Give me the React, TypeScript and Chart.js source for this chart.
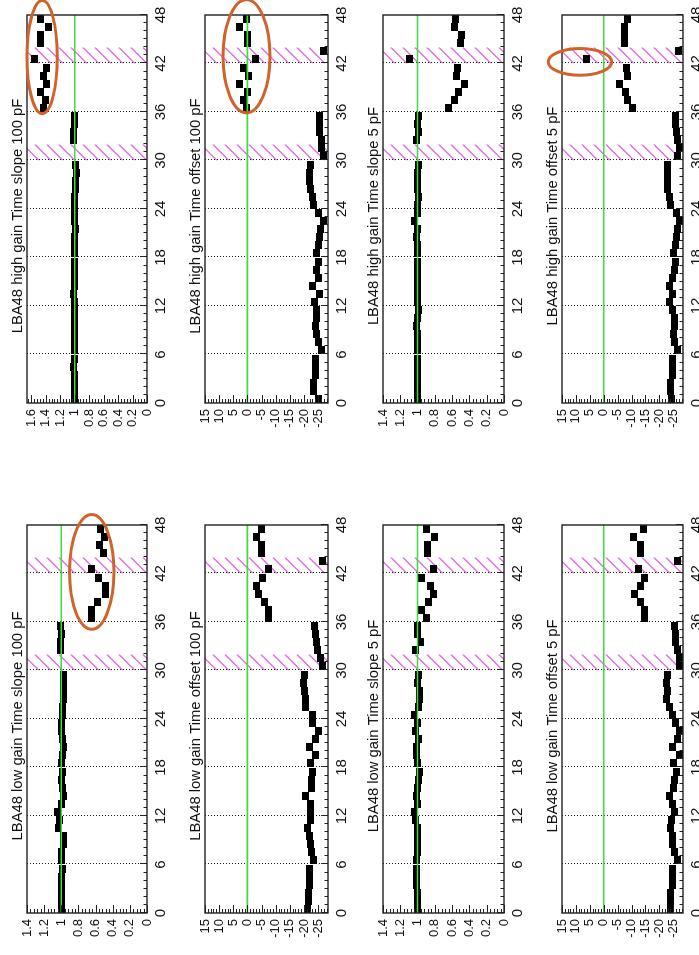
import React, { useEffect, useRef } from 'react';
import { Chart, registerables } from 'chart.js';

Chart.register(...registerables);

const FONT = "'Liberation Sans', Arial, Helvetica, sans-serif";
Chart.defaults.font.family = FONT;

// ---------------- axes / categories ----------------
const CHANNEL_TICKS = [0, 6, 12, 18, 24, 30, 36, 42, 48];
const GRID_CHANNELS = [6, 12, 18, 24, 30, 36, 42];
const HATCHED_CHANNELS = [[30, 32], [42, 44]];
const SLOPE_TICKS = [0, 0.2, 0.4, 0.6, 0.8, 1, 1.2, 1.4];
const SLOPE_TICKS_WIDE = [0, 0.2, 0.4, 0.6, 0.8, 1, 1.2, 1.4, 1.6];
const OFFSET_TICKS = [-25, -20, -15, -10, -5, 0, 5, 10, 15];
const SLOPE_RANGE = [0, 1.4];
const SLOPE_RANGE_WIDE = [0, 1.66];
const OFFSET_RANGE = [-28.5, 15];
const SLOPE_REFERENCE = 1;
const OFFSET_REFERENCE = 0;

const TITLES = [
  'LBA48 low gain Time slope 100 pF',
  'LBA48 low gain Time offset 100 pF',
  'LBA48 low gain Time slope 5 pF',
  'LBA48 low gain Time offset 5 pF',
  'LBA48 high gain Time slope 100 pF',
  'LBA48 high gain Time offset 100 pF',
  'LBA48 high gain Time slope 5 pF',
  'LBA48 high gain Time offset 5 pF',
];

// ---------------- series (channel 0..47) ----------------
const lowSlope100 = [
  1.00, 1.00, 1.00, 1.00, 1.00, 0.99, 1.00, 1.00, 0.98, 0.97, 1.03, 1.02,
  1.04, 1.00, 0.97, 0.99, 1.00, 0.99, 1.00, 0.99, 0.98, 0.99, 1.00, 1.00,
  0.99, 0.99, 0.98, 0.98, 0.98, 0.98, null, null, 1.01, 1.01, 1.00, 1.01,
  0.65, 0.65, 0.58, 0.49, 0.49, 0.57, 0.65, null, 0.51, 0.56, 0.50, 0.54,
];
const lowOffset100 = [
  -21.2, -21.5, -21.5, -22.0, -22.0, -22.0, -23.5, -22.7, -22.4, -22.0, -21.2, -22.4,
  -22.4, -22.4, -20.6, -22.7, -22.7, -22.9, -22.4, -24.1, -21.8, -24.1, -25.1, -22.9,
  -22.9, -20.6, -20.6, -20.2, -20.0, -20.2, -26.7, -25.9, -24.7, -24.4, -24.1, -23.8,
  -7.5, -7.5, -5.9, -4.0, -3.2, -5.3, -7.6, -26.6, -5.1, -5.1, -3.2, -5.1,
];
const lowSlope5 = [
  1.00, 1.00, 1.00, 1.01, 1.01, 1.01, 1.01, 1.00, 1.00, 1.00, 1.00, 1.02,
  1.03, 1.00, 1.01, 1.00, 0.99, 0.98, 1.00, 1.01, 1.01, 0.99, 1.02, 1.00,
  1.03, 0.99, 0.98, 0.98, 1.00, 0.99, null, null, 1.02, 0.97, 1.00, 1.00,
  0.90, 0.95, 0.87, 0.82, 0.85, 0.96, 0.82, null, 0.89, 0.89, 0.80, 0.90,
];
const lowOffset5 = [
  -24.1, -24.1, -24.1, -24.9, -24.9, -24.7, -26.5, -25.3, -24.9, -24.7, -24.1, -24.5,
  -25.3, -24.9, -23.5, -25.0, -25.5, -26.1, -25.0, -27.1, -24.7, -26.5, -27.1, -25.9,
  -24.7, -23.8, -22.6, -22.9, -22.6, -22.9, -27.1, -27.1, -26.5, -25.9, -25.9, -25.5,
  -14.5, -14.8, -13.3, -11.1, -13.1, -14.7, -12.4, -26.7, -13.1, -13.1, -10.7, -14.3,
];
const highSlope100 = [
  1.00, 1.00, 1.00, 1.00, 1.01, 1.00, 1.00, 1.00, 1.00, 1.00, 1.00, 1.00,
  1.00, 1.01, 1.00, 1.00, 1.00, 1.00, 1.00, 1.00, 1.00, 0.99, 1.00, 1.00,
  1.00, 1.00, 0.99, 0.99, 0.98, 0.99, null, null, 1.01, 1.01, 1.00, 1.00,
  1.43, 1.41, 1.47, 1.385, 1.43, 1.39, 1.56, null, 1.47, 1.47, 1.36, 1.47,
];
const highOffset100 = [
  -25.0, -23.2, -23.2, -24.2, -24.2, -24.2, -26.2, -25.0, -24.4, -24.2, -24.4, -24.6,
  -23.8, -25.6, -23.0, -25.0, -24.6, -25.0, -24.6, -25.2, -25.6, -25.8, -26.8, -25.0,
  -23.5, -23.0, -22.3, -22.1, -22.1, -22.4, -26.8, -26.2, -26.2, -25.6, -25.4, -25.4,
  0.4, 1.5, -0.1, 2.7, -0.4, 1.4, -2.9, -26.9, -0.2, -0.2, 2.8, 0.4,
];
const highSlope5 = [
  1.00, 1.00, 1.00, 1.00, 1.00, 1.00, 1.00, 1.00, 1.00, 1.01, 1.00, 0.99,
  1.00, 1.00, 1.00, 1.00, 1.00, 1.00, 1.00, 1.00, 1.01, 1.00, 1.03, 1.00,
  1.00, 0.99, 1.00, 1.00, 1.00, 0.99, null, null, 1.01, 0.99, 1.00, 0.99,
  0.64, 0.57, 0.53, 0.46, 0.55, 0.54, 1.09, null, 0.50, 0.49, 0.57, 0.56,
];
const highOffset5 = [
  -24.3, -24.0, -24.0, -24.9, -24.9, -24.9, -26.7, -25.5, -25.1, -25.5, -25.5, -24.9,
  -23.7, -24.9, -23.7, -24.9, -25.5, -25.7, -25.2, -25.7, -26.1, -26.4, -27.3, -26.1,
  -24.0, -23.7, -22.8, -22.8, -22.8, -22.8, -26.7, -27.3, -26.7, -26.1, -25.7, -25.7,
  -10.5, -8.5, -7.8, -5.6, -8.5, -8.3, 6.1, -27.0, -7.5, -7.5, -7.5, -8.7,
];

// hand-drawn highlight rings (centre channel, centre value, half-size in channels / values)
const RINGS_LOW_SLOPE_100 = [{ ch: 42.2, val: 0.645, dCh: 7.1, dVal: 0.26 }];
const RINGS_HIGH_SLOPE_100 = [{ ch: 42.8, val: 1.45, dCh: 7.0, dVal: 0.21 }];
const RINGS_HIGH_OFFSET_100 = [{ ch: 42.9, val: 0.33, dCh: 7.0, dVal: 8.3 }];
const RINGS_HIGH_OFFSET_5 = [{ ch: 42.2, val: 8.53, dCh: 1.65, dVal: 11.4 }];

// ---------------- layout (unrotated page, 955 x 699) ----------------
const TOP_SPACE = 27;
const AXIS_SPACE = 30;
const COLUMNS = [
  { left: 0, width: 477, axis: 42, right: 47 },
  { left: 477, width: 478, axis: 75, right: 15 },
];
const ROWS = [
  { top: 27, bottom: 147 },
  { top: 205, bottom: 328 },
  { top: 383, bottom: 504 },
  { top: 562, bottom: 683 },
];

const GREEN = '#3fdc3f';
const HATCH = '#e070e0';
const RING = '#d0622a';

const PANELS = [
  { title: TITLES[0], values: lowSlope100, ref: SLOPE_REFERENCE, range: SLOPE_RANGE, yTicks: SLOPE_TICKS, minor: 0.04, col: 0, row: 0, rings: RINGS_LOW_SLOPE_100 },
  { title: TITLES[1], values: lowOffset100, ref: OFFSET_REFERENCE, range: OFFSET_RANGE, yTicks: OFFSET_TICKS, minor: 1, col: 0, row: 1, rings: [] },
  { title: TITLES[2], values: lowSlope5, ref: SLOPE_REFERENCE, range: SLOPE_RANGE, yTicks: SLOPE_TICKS, minor: 0.04, col: 0, row: 2, rings: [] },
  { title: TITLES[3], values: lowOffset5, ref: OFFSET_REFERENCE, range: OFFSET_RANGE, yTicks: OFFSET_TICKS, minor: 1, col: 0, row: 3, rings: [] },
  { title: TITLES[4], values: highSlope100, ref: SLOPE_REFERENCE, range: SLOPE_RANGE_WIDE, yTicks: SLOPE_TICKS_WIDE, minor: 0.04, col: 1, row: 0, rings: RINGS_HIGH_SLOPE_100 },
  { title: TITLES[5], values: highOffset100, ref: OFFSET_REFERENCE, range: OFFSET_RANGE, yTicks: OFFSET_TICKS, minor: 1, col: 1, row: 1, rings: RINGS_HIGH_OFFSET_100 },
  { title: TITLES[6], values: highSlope5, ref: SLOPE_REFERENCE, range: SLOPE_RANGE, yTicks: SLOPE_TICKS, minor: 0.04, col: 1, row: 2, rings: [] },
  { title: TITLES[7], values: highOffset5, ref: OFFSET_REFERENCE, range: OFFSET_RANGE, yTicks: OFFSET_TICKS, minor: 1, col: 1, row: 3, rings: RINGS_HIGH_OFFSET_5 },
];

const rootStyle = {
  id: 'rootStyle',
  beforeDatasetsDraw(chart: any, _args: any, o: any) {
    const { ctx, chartArea: a } = chart;
    const x = chart.scales.x;
    ctx.save();
    // hatched (missing) channel bands
    ctx.strokeStyle = HATCH;
    ctx.lineWidth = 1.3;
    for (const [c0, c1] of o.hatch) {
      const x0 = x.getPixelForValue(c0);
      const x1 = x.getPixelForValue(c1);
      const w = x1 - x0;
      ctx.save();
      ctx.beginPath();
      ctx.rect(x0, a.top, w, a.bottom - a.top);
      ctx.clip();
      ctx.beginPath();
      for (let s = a.top; s <= a.bottom + w + 12; s += 12) {
        ctx.moveTo(x0, s);
        ctx.lineTo(x1, s - w);
      }
      ctx.stroke();
      ctx.restore();
    }
    // dotted grid
    ctx.setLineDash([1, 2]);
    ctx.strokeStyle = '#222';
    ctx.lineWidth = 1;
    for (const g of o.grid) {
      const px = Math.round(x.getPixelForValue(g)) + 0.5;
      ctx.beginPath();
      ctx.moveTo(px, a.top);
      ctx.lineTo(px, a.bottom);
      ctx.stroke();
    }
    ctx.restore();
  },
  afterDatasetsDraw(chart: any, _args: any, o: any) {
    const { ctx, chartArea: a } = chart;
    const x = chart.scales.x;
    const y = chart.scales.y;
    ctx.save();
    ctx.strokeStyle = '#222';
    ctx.lineWidth = 1;
    // tick marks inside the frame
    ctx.beginPath();
    for (let c = 0; c <= 48; c++) {
      const px = Math.round(x.getPixelForValue(c)) + 0.5;
      const len = c % 6 === 0 ? 7 : 3.5;
      ctx.moveTo(px, a.bottom);
      ctx.lineTo(px, a.bottom - len);
    }
    const kMin = Math.ceil(o.min / o.minor - 1e-6);
    const kMax = Math.floor(o.max / o.minor + 1e-6);
    for (let k = kMin; k <= kMax; k++) {
      const py = Math.round(y.getPixelForValue(k * o.minor)) + 0.5;
      const len = k % 5 === 0 ? 8 : 4;
      ctx.moveTo(a.left, py);
      ctx.lineTo(a.left + len, py);
    }
    ctx.stroke();
    // frame
    ctx.lineWidth = 1.4;
    ctx.strokeRect(a.left, a.top, a.right - a.left, a.bottom - a.top);
    // title
    ctx.fillStyle = '#111';
    ctx.font = `14.8px ${FONT}`;
    ctx.textAlign = 'center';
    ctx.textBaseline = 'alphabetic';
    ctx.fillText(o.title, (a.left + a.right) / 2 - 7, a.top - 5.5);
    // highlight rings
    ctx.strokeStyle = RING;
    ctx.lineWidth = 3;
    for (const r of o.rings) {
      const cx = x.getPixelForValue(r.ch);
      const cy = y.getPixelForValue(r.val);
      const rx = Math.abs(x.getPixelForValue(r.ch + r.dCh) - cx);
      const ry = Math.abs(y.getPixelForValue(r.val + r.dVal) - cy);
      ctx.beginPath();
      ctx.ellipse(cx, cy, rx, ry, 0, 0, Math.PI * 2);
      ctx.stroke();
    }
    ctx.restore();
  },
};

function Panel({ spec }: { spec: any }) {
  const ref = useRef<HTMLCanvasElement | null>(null);
  const col = COLUMNS[spec.col];
  const row = ROWS[spec.row];
  const w = col.width;
  const h = row.bottom - row.top + TOP_SPACE + AXIS_SPACE;
  const left = col.left;
  const top = row.top - TOP_SPACE;

  useEffect(() => {
    const marker = document.createElement('canvas');
    marker.width = 8;
    marker.height = 7;
    const g = marker.getContext('2d')!;
    g.fillStyle = '#000';
    g.fillRect(0, 0, 8, 7);

    const points = spec.values
      .map((v: number | null, i: number) => (v === null ? null : { x: i + 0.5, y: v }))
      .filter((p: any) => p !== null);

    const chart = new Chart(ref.current as HTMLCanvasElement, {
      type: 'scatter',
      data: {
        datasets: [
          {
            type: 'line',
            data: [{ x: 0, y: spec.ref }, { x: 48, y: spec.ref }],
            borderColor: GREEN,
            borderWidth: 1.6,
            pointRadius: 0,
            order: 0,
          } as any,
          {
            type: 'scatter',
            data: points,
            pointStyle: marker,
            pointRadius: 4,
            pointHoverRadius: 4,
            backgroundColor: '#000',
            borderWidth: 0,
            order: 1,
          } as any,
        ],
      },
      options: {
        responsive: false,
        animation: false,
        devicePixelRatio: 1,
        events: [],
        layout: { padding: { left: 0, top: TOP_SPACE, right: col.right, bottom: 0 } },
        plugins: {
          legend: { display: false },
          tooltip: { enabled: false },
          title: { display: false },
          rootStyle: {
            title: spec.title,
            hatch: HATCHED_CHANNELS,
            grid: GRID_CHANNELS,
            rings: spec.rings,
            min: spec.range[0],
            max: spec.range[1],
            minor: spec.minor,
          },
        } as any,
        scales: {
          x: {
            type: 'linear',
            min: 0,
            max: 48,
            grid: { display: false, drawTicks: false },
            border: { display: false },
            afterBuildTicks: (s: any) => {
              s.ticks = CHANNEL_TICKS.map((v) => ({ value: v }));
            },
            afterFit: (s: any) => {
              s.height = AXIS_SPACE;
            },
            ticks: {
              autoSkip: false,
              maxRotation: 0,
              minRotation: 0,
              padding: 5,
              color: '#111',
              font: { size: 15, family: FONT },
              callback: (v: any) => String(v),
            },
          },
          y: {
            type: 'linear',
            min: spec.range[0],
            max: spec.range[1],
            grid: { display: false, drawTicks: false },
            border: { display: false },
            afterBuildTicks: (s: any) => {
              s.ticks = spec.yTicks.map((v: number) => ({ value: v }));
            },
            afterFit: (s: any) => {
              s.width = col.axis;
            },
            ticks: {
              autoSkip: false,
              padding: 6,
              color: '#111',
              font: { size: 13, family: FONT },
              callback: (v: any) => String(Math.round(Number(v) * 100) / 100),
            },
          },
        },
      } as any,
      plugins: [rootStyle as any],
    });
    return () => chart.destroy();
  }, [spec]);

  return (
    <canvas
      ref={ref}
      width={w}
      height={h}
      style={{ position: 'absolute', left, top, width: w, height: h }}
    />
  );
}

export default function App() {
  return (
    <div
      style={{
        position: 'fixed',
        left: 0,
        top: 0,
        width: 699,
        height: 955,
        overflow: 'hidden',
        background: '#fff',
      }}
    >
      <div
        style={{
          position: 'absolute',
          left: 0,
          top: 0,
          width: 955,
          height: 699,
          transformOrigin: '0 0',
          transform: 'translateY(955px) rotate(-90deg)',
        }}
      >
        {PANELS.map((p, i) => (
          <Panel key={i} spec={p} />
        ))}
      </div>
    </div>
  );
}
